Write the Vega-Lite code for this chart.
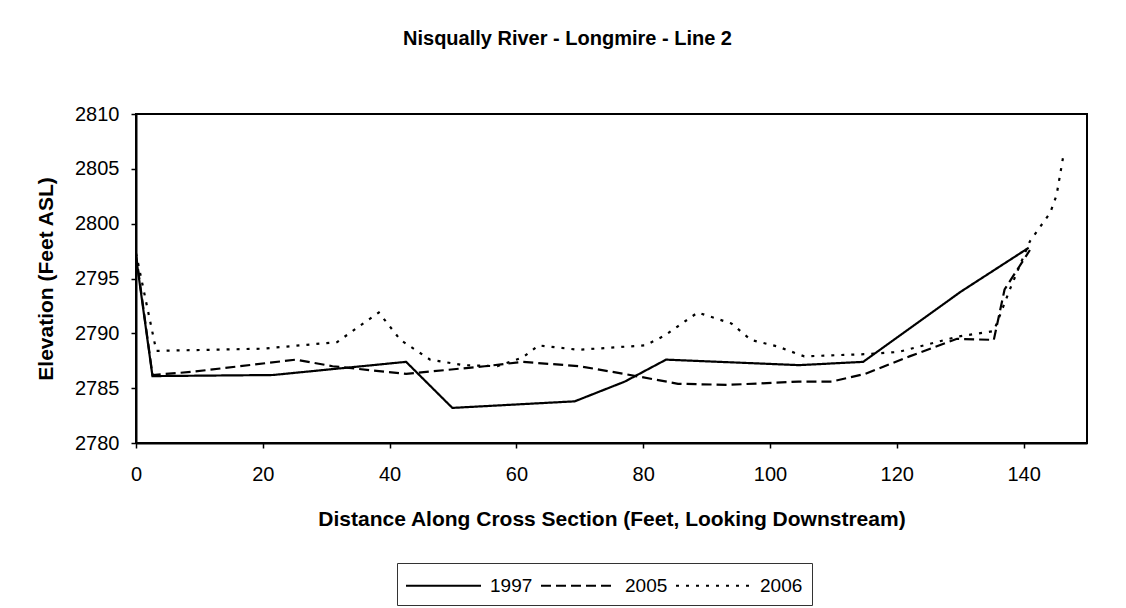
{
  "$schema": "https://vega.github.io/schema/vega-lite/v6.json",
  "autosize": "none",
  "width": 951,
  "height": 329,
  "padding": {"left": 136, "top": 114, "right": 39, "bottom": 165},
  "background": "white",
  "config": {
    "font": "Liberation Sans",
    "view": {"stroke": "black", "strokeWidth": 2},
    "axis": {"grid": false, "domainColor": "black", "domainWidth": 2, "tickColor": "black", "tickWidth": 1.5, "labelColor": "black", "titleColor": "black", "labelFont": "Liberation Sans", "titleFont": "Liberation Sans"}
  },
  "title": {
    "text": "Nisqually River - Longmire - Line 2",
    "fontSize": 20,
    "fontWeight": "bold",
    "font": "Liberation Sans",
    "color": "black",
    "anchor": "middle",
    "dx": -44,
    "offset": 55
  },
  "data": {
    "values": [
      {"year": "1997", "x": 0, "y": 2797.0},
      {"year": "1997", "x": 2.6, "y": 2786.1},
      {"year": "1997", "x": 21.6, "y": 2786.2},
      {"year": "1997", "x": 42.6, "y": 2787.4},
      {"year": "1997", "x": 49.9, "y": 2783.2},
      {"year": "1997", "x": 69.2, "y": 2783.8},
      {"year": "1997", "x": 77.1, "y": 2785.6},
      {"year": "1997", "x": 83.6, "y": 2787.6},
      {"year": "1997", "x": 104.6, "y": 2787.1},
      {"year": "1997", "x": 114.7, "y": 2787.4},
      {"year": "1997", "x": 130.1, "y": 2793.8},
      {"year": "1997", "x": 140.8, "y": 2797.8},
      {"year": "2005", "x": 0, "y": 2797.2},
      {"year": "2005", "x": 2.6, "y": 2786.2},
      {"year": "2005", "x": 9.0, "y": 2786.5},
      {"year": "2005", "x": 25.2, "y": 2787.6},
      {"year": "2005", "x": 31.0, "y": 2787.0},
      {"year": "2005", "x": 42.6, "y": 2786.3},
      {"year": "2005", "x": 55.0, "y": 2787.0},
      {"year": "2005", "x": 61.0, "y": 2787.4},
      {"year": "2005", "x": 70.0, "y": 2787.0},
      {"year": "2005", "x": 77.0, "y": 2786.3},
      {"year": "2005", "x": 85.5, "y": 2785.4},
      {"year": "2005", "x": 93.3, "y": 2785.3},
      {"year": "2005", "x": 104.5, "y": 2785.6},
      {"year": "2005", "x": 109.7, "y": 2785.6},
      {"year": "2005", "x": 115.0, "y": 2786.3},
      {"year": "2005", "x": 122.0, "y": 2787.9},
      {"year": "2005", "x": 129.5, "y": 2789.5},
      {"year": "2005", "x": 135.3, "y": 2789.4},
      {"year": "2005", "x": 137.0, "y": 2794.0},
      {"year": "2005", "x": 141.0, "y": 2797.6},
      {"year": "2006", "x": 0, "y": 2797.3},
      {"year": "2006", "x": 3.2, "y": 2788.4},
      {"year": "2006", "x": 20.0, "y": 2788.6},
      {"year": "2006", "x": 31.7, "y": 2789.2},
      {"year": "2006", "x": 38.3, "y": 2791.9},
      {"year": "2006", "x": 41.7, "y": 2789.4},
      {"year": "2006", "x": 46.4, "y": 2787.6},
      {"year": "2006", "x": 51.6, "y": 2787.1},
      {"year": "2006", "x": 57.0, "y": 2787.0},
      {"year": "2006", "x": 61.0, "y": 2787.8},
      {"year": "2006", "x": 63.5, "y": 2788.9},
      {"year": "2006", "x": 69.8, "y": 2788.5},
      {"year": "2006", "x": 80.3, "y": 2788.9},
      {"year": "2006", "x": 83.4, "y": 2789.8},
      {"year": "2006", "x": 88.6, "y": 2791.9},
      {"year": "2006", "x": 93.9, "y": 2790.9},
      {"year": "2006", "x": 97.0, "y": 2789.4},
      {"year": "2006", "x": 101.2, "y": 2788.8},
      {"year": "2006", "x": 105.4, "y": 2787.9},
      {"year": "2006", "x": 114.9, "y": 2788.1},
      {"year": "2006", "x": 120.2, "y": 2788.3},
      {"year": "2006", "x": 129.6, "y": 2789.7},
      {"year": "2006", "x": 135.3, "y": 2790.2},
      {"year": "2006", "x": 137.9, "y": 2794.1},
      {"year": "2006", "x": 141.0, "y": 2798.4},
      {"year": "2006", "x": 144.2, "y": 2801.0},
      {"year": "2006", "x": 145.2, "y": 2802.6},
      {"year": "2006", "x": 146.3, "y": 2806.3}
    ]
  },
  "mark": {"type": "line", "color": "black", "strokeWidth": 2.2, "strokeCap": "butt", "clip": true},
  "encoding": {
    "x": {
      "field": "x", "type": "quantitative",
      "scale": {"domain": [0, 150], "nice": false, "zero": false},
      "axis": {
        "values": [0, 20, 40, 60, 80, 100, 120, 140],
        "title": "Distance Along Cross Section (Feet, Looking Downstream)",
        "labelFontSize": 20, "titleFontSize": 21, "titleFontWeight": "bold",
        "tickSize": 5, "labelPadding": 16, "titlePadding": 24, "labelFlush": false
      }
    },
    "y": {
      "field": "y", "type": "quantitative",
      "scale": {"domain": [2780, 2810], "nice": false, "zero": false},
      "axis": {
        "values": [2780, 2785, 2790, 2795, 2800, 2805, 2810],
        "format": "d",
        "title": "Elevation (Feet ASL)",
        "labelFontSize": 20, "titleFontSize": 21, "titleFontWeight": "bold",
        "tickSize": 5, "labelPadding": 12, "titlePadding": 18, "labelFlush": false
      }
    },
    "strokeDash": {
      "field": "year", "type": "nominal",
      "scale": {"domain": ["1997", "2005", "2006"], "range": [[1, 0], [10, 5], [3, 7]]},
      "legend": {
        "title": null,
        "orient": "none",
        "direction": "horizontal",
        "legendX": 261,
        "legendY": 449,
        "symbolType": "M-3,0H3",
        "symbolSize": 625,
        "symbolOffset": 24,
        "symbolStrokeWidth": 2,
        "symbolStrokeColor": "black",
        "symbolFillColor": "transparent",
        "labelFontSize": 19,
        "labelColor": "black",
        "labelOffset": 33,
        "columnPadding": 4,
        "padding": 9,
        "strokeColor": "#333",
        "cornerRadius": 0
      }
    }
  }
}
